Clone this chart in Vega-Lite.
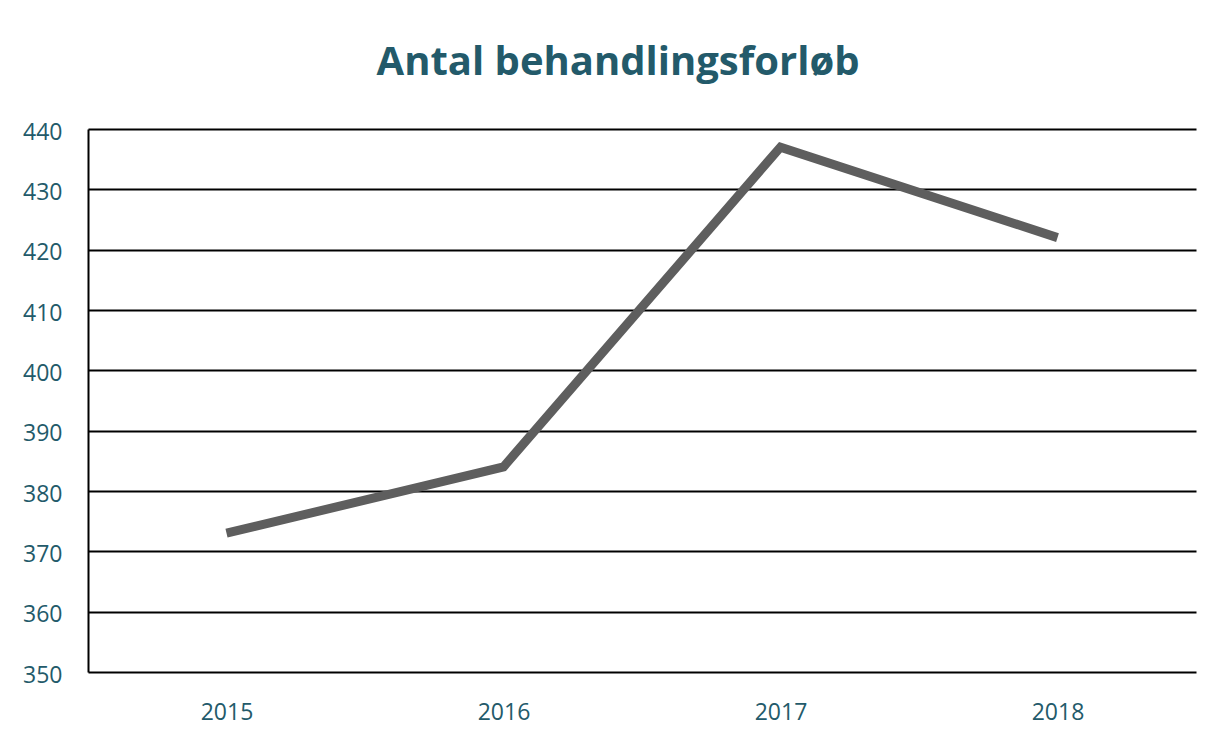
{
  "$schema": "https://vega.github.io/schema/vega-lite/v6.json",
  "width": 1108,
  "height": 543,
  "autosize": {"type": "none"},
  "padding": {"left": 88, "top": 129, "right": 20, "bottom": 57},
  "background": "white",
  "title": {
    "text": "Antal behandlingsforløb",
    "font": "Open Sans",
    "fontWeight": "bold",
    "fontSize": 40,
    "color": "#235A6A",
    "anchor": "middle",
    "frame": "group",
    "baseline": "alphabetic",
    "offset": 6,
    "dx": -24
  },
  "data": {
    "values": [
      {"year": "2015", "value": 373},
      {"year": "2016", "value": 384},
      {"year": "2017", "value": 437},
      {"year": "2018", "value": 422}
    ]
  },
  "mark": {"type": "line", "color": "#5E5E5E", "strokeWidth": 9, "strokeCap": "butt", "strokeJoin": "miter"},
  "encoding": {
    "x": {
      "field": "year",
      "type": "ordinal",
      "scale": {"type": "point", "padding": 0.5},
      "axis": {
        "title": null,
        "labelAngle": 0,
        "labelFont": "Open Sans",
        "labelFontSize": 23,
        "labelColor": "#235A6A",
        "labelPadding": 29,
        "ticks": false,
        "domain": false,
        "grid": false
      }
    },
    "y": {
      "field": "value",
      "type": "quantitative",
      "scale": {"domain": [350, 440], "nice": false, "zero": false},
      "axis": {
        "title": null,
        "values": [350, 360, 370, 380, 390, 400, 410, 420, 430, 440],
        "labelFont": "Open Sans",
        "labelFontSize": 23,
        "labelColor": "#235A6A",
        "labelPadding": 26,
        "labelOffset": 3,
        "ticks": false,
        "domain": true,
        "domainColor": "#000000",
        "domainWidth": 2,
        "grid": true,
        "gridColor": "#000000",
        "gridWidth": 2,
        "gridOpacity": 1
      }
    }
  },
  "config": {"view": {"stroke": null}}
}
